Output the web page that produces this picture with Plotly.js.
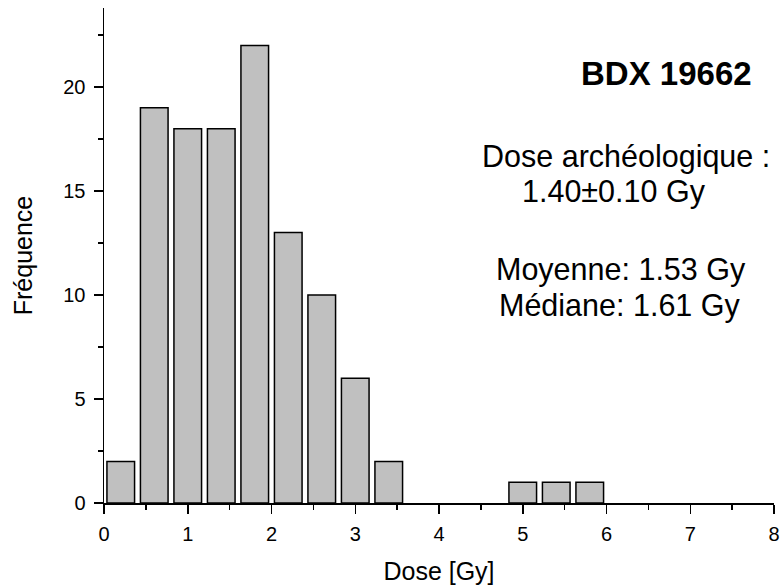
<!DOCTYPE html>
<html>
<head>
<meta charset="utf-8">
<script src="https://cdn.plot.ly/plotly-3.0.1.min.js"></script>
<style>html,body{margin:0;padding:0;background:#fff;}#chart{width:781px;height:586px;}</style>
</head>
<body>
<div id="chart"></div>
<script>
// Histogram bin centers (Gy) and frequencies
const binCenters = [0.2, 0.6, 1.0, 1.4, 1.8, 2.2, 2.6, 3.0, 3.4, 3.8, 4.2, 4.6, 5.0, 5.4, 5.8];
const frequencies = [2, 19, 18, 18, 22, 13, 10, 6, 2, 0, 0, 0, 1, 1, 1];
const xTickVals = [0, 1, 2, 3, 4, 5, 6, 7, 8];
const yTickVals = [0, 5, 10, 15, 20];
const sampleName = "BDX 19662";
const infoLines = ["Dose archéologique :", "1.40±0.10 Gy", "Moyenne: 1.53 Gy", "Médiane: 1.61 Gy"];

const font = "Liberation Sans, Arial, sans-serif";

// empty bins are not drawn (no outline at zero)
const keep = frequencies.map(v => v > 0);
const trace = {
  type: 'bar',
  x: binCenters.filter((_, i) => keep[i]),
  y: frequencies.filter((_, i) => keep[i]),
  width: 0.33,
  marker: {color: '#c0c0c0', line: {color: '#000', width: 1.5}},
  hoverinfo: 'x+y'
};

const layout = {
  width: 781, height: 586,
  margin: {l: 104, r: 7, t: 8, b: 83},
  paper_bgcolor: '#fff', plot_bgcolor: '#fff',
  showlegend: false,
  font: {family: font, color: '#000'},
  xaxis: {
    range: [0, 8], tickvals: xTickVals, ticks: 'outside', ticklen: 9, tickwidth: 1.5, tickcolor: '#000',
    showline: true, linecolor: '#000', linewidth: 1.5, showgrid: false, zeroline: false,
    tickfont: {size: 20, family: font}, ticklabelstandoff: 3,
    minor: {dtick: 0.5, ticks: 'outside', ticklen: 5, tickwidth: 1.5, tickcolor: '#000', showgrid: false},
    title: {text: 'Dose [Gy]', font: {size: 25, family: font}, standoff: 19}
  },
  yaxis: {
    range: [0, 23.8], tickvals: yTickVals, ticks: 'outside', ticklen: 9, tickwidth: 1.5, tickcolor: '#000',
    showline: true, linecolor: '#000', linewidth: 1.5, showgrid: false, zeroline: false,
    tickfont: {size: 20, family: font}, ticklabelstandoff: 4,
    minor: {dtick: 2.5, ticks: 'outside', ticklen: 5, tickwidth: 1.5, tickcolor: '#000', showgrid: false},
    title: {text: 'Fréquence', font: {size: 25, family: font}, standoff: 23}
  },
  annotations: [
    {text: '<b>' + sampleName + '</b>', x: 0.840, y: 0.867, font: {size: 33}},
    {text: infoLines[0], x: 0.779, y: 0.699, font: {size: 30.5}},
    {text: infoLines[1], x: 0.761, y: 0.630, font: {size: 30.5}},
    {text: infoLines[2], x: 0.772, y: 0.471, font: {size: 30.5}},
    {text: infoLines[3], x: 0.770, y: 0.400, font: {size: 30.5}}
  ].map(a => Object.assign({xref: 'paper', yref: 'paper', xanchor: 'center', yanchor: 'middle', showarrow: false}, a,
        {font: Object.assign({family: font, color: '#000'}, a.font)}))
};

Plotly.newPlot('chart', [trace], layout, {displayModeBar: false, staticPlot: true});
</script>
</body>
</html>
